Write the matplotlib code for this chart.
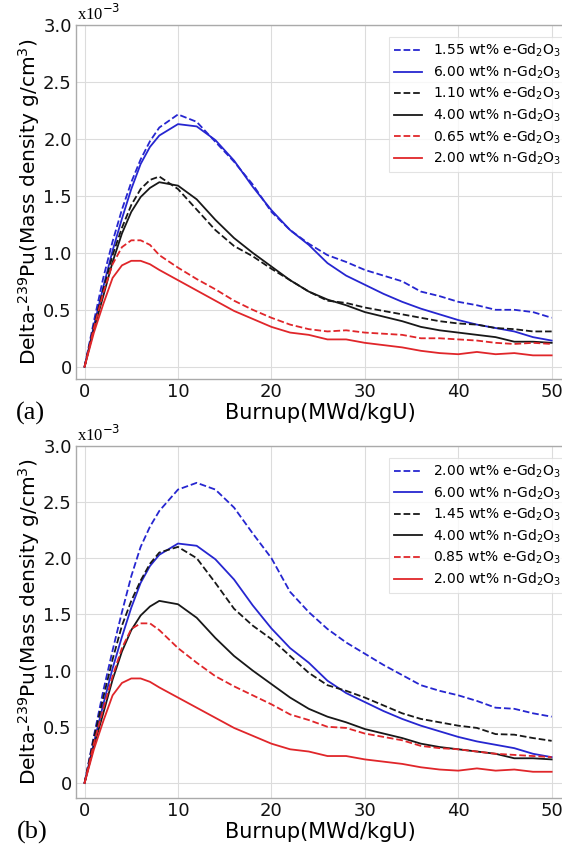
import matplotlib
matplotlib.use("Agg")
import matplotlib.pyplot as plt

burnup = [0, 1, 2, 3, 4, 5, 6, 7, 8, 10, 12, 14, 16, 18, 20, 22, 24, 26, 28, 30,
          32, 34, 36, 38, 40, 42, 44, 46, 48, 50]

# Panel (a)
a_e155 = [0, 0.40, 0.78, 1.10, 1.38, 1.62, 1.82, 1.98, 2.10, 2.215, 2.15, 1.975, 1.80, 1.60, 1.36,
          1.20, 1.08, 0.98, 0.92, 0.85, 0.80, 0.75, 0.66, 0.62, 0.57, 0.54, 0.50, 0.50, 0.48, 0.43]
n600 = [0, 0.36, 0.70, 1.02, 1.30, 1.56, 1.78, 1.93, 2.03, 2.13, 2.11, 1.99, 1.81, 1.58, 1.375,
        1.20, 1.07, 0.91, 0.80, 0.72, 0.64, 0.57, 0.51, 0.46, 0.41, 0.37, 0.34, 0.31, 0.26, 0.23]
a_e110 = [0, 0.36, 0.68, 0.98, 1.22, 1.42, 1.56, 1.64, 1.67, 1.56, 1.38, 1.20, 1.06, 0.97, 0.86,
          0.76, 0.66, 0.58, 0.56, 0.52, 0.49, 0.46, 0.43, 0.40, 0.38, 0.37, 0.34, 0.33, 0.31, 0.31]
n400 = [0, 0.33, 0.62, 0.92, 1.17, 1.36, 1.49, 1.57, 1.62, 1.59, 1.47, 1.29, 1.13, 1.00, 0.88,
        0.76, 0.66, 0.59, 0.54, 0.48, 0.44, 0.40, 0.35, 0.32, 0.30, 0.28, 0.26, 0.22, 0.22, 0.21]
a_e065 = [0, 0.34, 0.65, 0.90, 1.05, 1.11, 1.11, 1.07, 0.98, 0.87, 0.77, 0.68, 0.58, 0.50, 0.43,
          0.37, 0.33, 0.31, 0.32, 0.30, 0.29, 0.28, 0.25, 0.25, 0.24, 0.23, 0.21, 0.20, 0.21, 0.20]
n200 = [0, 0.30, 0.55, 0.78, 0.89, 0.93, 0.93, 0.90, 0.85, 0.76, 0.67, 0.58, 0.49, 0.42, 0.35,
        0.30, 0.28, 0.24, 0.24, 0.21, 0.19, 0.17, 0.14, 0.12, 0.11, 0.13, 0.11, 0.12, 0.10, 0.10]

# Panel (b)
b_e200 = [0, 0.42, 0.82, 1.18, 1.52, 1.84, 2.10, 2.28, 2.42, 2.61, 2.67, 2.61, 2.45, 2.22, 2.00,
          1.70, 1.52, 1.37, 1.25, 1.15, 1.05, 0.96, 0.87, 0.82, 0.78, 0.73, 0.67, 0.66, 0.62, 0.59]
b_e145 = [0, 0.40, 0.76, 1.10, 1.40, 1.62, 1.80, 1.95, 2.05, 2.10, 2.00, 1.78, 1.55, 1.40, 1.28,
          1.13, 0.98, 0.87, 0.82, 0.76, 0.69, 0.62, 0.57, 0.54, 0.51, 0.49, 0.435, 0.43, 0.40, 0.375]
b_e085 = [0, 0.35, 0.66, 0.95, 1.20, 1.37, 1.42, 1.42, 1.36, 1.20, 1.07, 0.95, 0.86, 0.78, 0.70,
          0.61, 0.56, 0.50, 0.49, 0.44, 0.41, 0.38, 0.33, 0.31, 0.30, 0.28, 0.26, 0.25, 0.24, 0.23]

labels_a = ["1.55 wt% e-Gd$_2$O$_3$", "6.00 wt% n-Gd$_2$O$_3$",
            "1.10 wt% e-Gd$_2$O$_3$", "4.00 wt% n-Gd$_2$O$_3$",
            "0.65 wt% e-Gd$_2$O$_3$", "2.00 wt% n-Gd$_2$O$_3$"]
labels_b = ["2.00 wt% e-Gd$_2$O$_3$", "6.00 wt% n-Gd$_2$O$_3$",
            "1.45 wt% e-Gd$_2$O$_3$", "4.00 wt% n-Gd$_2$O$_3$",
            "0.85 wt% e-Gd$_2$O$_3$", "2.00 wt% n-Gd$_2$O$_3$"]
series_a = [a_e155, n600, a_e110, n400, a_e065, n200]
series_b = [b_e200, n600, b_e145, n400, b_e085, n200]
colors = ["#2626d0", "#2626d0", "#181818", "#181818", "#e0262a", "#e0262a"]
styles = ["--", "-", "--", "-", "--", "-"]

yticks = [0, 0.5, 1.0, 1.5, 2.0, 2.5, 3.0]
yticklabels = ["0", "0.5", "1.0", "1.5", "2.0", "2.5", "3.0"]
xticks = [0, 10, 20, 30, 40, 50]

fig = plt.figure(figsize=(5.62, 8.48), dpi=100)
ax_a = fig.add_axes([0.1352, 0.553, 0.868, 0.4175])
ax_b = fig.add_axes([0.1352, 0.059, 0.868, 0.4154])

for ax, series, labels, ybot, tag in [(ax_a, series_a, labels_a, -0.108, "(a)"),
                                      (ax_b, series_b, labels_b, -0.133, "(b)")]:
    for s, c, ls, lab in zip(series, colors, styles, labels):
        ax.plot(burnup, s, color=c, ls=ls, lw=1.3, label=lab)
    ax.set_xlim(-0.92, 51.3)
    ax.set_ylim(ybot, 3.0)
    ax.set_yticks(yticks)
    ax.set_yticklabels(yticklabels)
    ax.set_xticks(xticks)
    ax.grid(True, color="#dcdcdc", lw=0.8)
    ax.set_axisbelow(True)
    for sp in ax.spines.values():
        sp.set_color("#aaaaaa")
        sp.set_linewidth(1.0)
    ax.tick_params(length=0, labelsize=13, pad=3, colors="#111111")
    ax.set_xlabel("Burnup(MWd/kgU)", fontsize=15, labelpad=1)
    ax.set_ylabel("Delta-$^{239}$Pu(Mass density g/cm$^3$)", fontsize=14.5, labelpad=1)
    leg = ax.legend(loc="upper left", bbox_to_anchor=(0.642, 0.966), borderaxespad=0,
                    fontsize=10, frameon=True, fancybox=False, handlelength=2.0,
                    handletextpad=0.8, labelspacing=0.3, borderpad=0.35)
    leg.get_frame().set_edgecolor("#dddddd")
    leg.get_frame().set_linewidth(0.8)
    ax.text(0.002, 1.003, "x10$^{-3}$", transform=ax.transAxes, fontsize=12,
            family="Liberation Serif", ha="left", va="bottom")

fig.text(30 / 562, 1 - 413 / 848, "(a)", fontsize=19, family="Liberation Serif",
         ha="center", va="center")
fig.text(32 / 562, 1 - 832 / 848, "(b)", fontsize=19, family="Liberation Serif",
         ha="center", va="center")

fig.savefig("out.png", dpi=100)
